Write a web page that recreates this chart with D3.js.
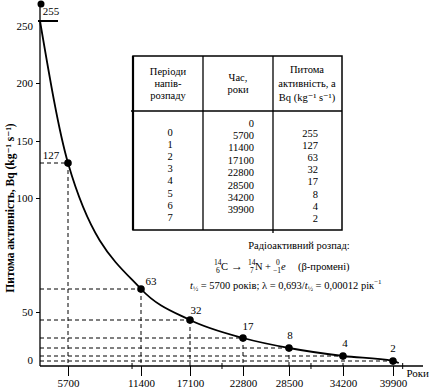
<!DOCTYPE html>
<html><head><meta charset="utf-8">
<script src="https://cdn.jsdelivr.net/npm/d3@7"></script>
<style>
html,body{margin:0;padding:0;background:#fff;}
svg, svg text{font-family:"Liberation Serif","DejaVu Serif","Times New Roman",serif !important;}
</style></head>
<body><svg id="c" width="431" height="391"></svg>
<script>
// ---- data ----
const periods = [0, 1, 2, 3, 4, 5, 6, 7];
const years = [0, 5700, 11400, 17100, 22800, 28500, 34200, 39900];
const activity = [255, 127, 63, 32, 17, 8, 4, 2];
const yTickValues = [0, 50, 100, 150, 200, 250];
const xTickValues = [5700, 11400, 17100, 22800, 28500, 34200, 39900];
const xMinorTicks = [10700, 20540, 30820, 40900];
const headerCol1 = ["Періоди", "напів-", "розпаду"];
const headerCol2 = ["Час,", "роки"];
const headerCol3 = ["Питома", "активність, a", "Bq (kg⁻¹ s⁻¹)"];
const yTitle = "Питома активність, Bq (kg⁻¹ s⁻¹)";
const xTitle = "Роки";

// ---- layout ----
const svg = d3.select("#c");
const x = d3.scaleLinear()
  .domain([0, 5700, 11400, 17100, 22800, 28500, 34200, 39900, 43000])
  .range([40, 68, 141, 190, 243, 289, 343, 393, 423]);
const y = d3.scaleLinear()
  .domain([0, 2, 4, 8, 17, 32, 50, 63, 100, 127, 150, 200, 250, 255, 272])
  .range([366, 361, 356, 348, 338, 320, 312, 289, 198, 163, 141, 83, 26, 21, 4]);

const g = svg.append("g");
const pts = years.map((t, i) => ({t, a: activity[i], i}));

// dashed guide lines
pts.slice(1).forEach(p => {
  g.append("line").attr("x1", x(0)).attr("x2", x(p.t)).attr("y1", y(p.a)).attr("y2", y(p.a))
    .attr("stroke", "#000").attr("stroke-width", 1).attr("stroke-dasharray", "4,3");
  g.append("line").attr("x1", x(p.t)).attr("x2", x(p.t)).attr("y1", y(p.a)).attr("y2", y(0))
    .attr("stroke", "#000").attr("stroke-width", 1).attr("stroke-dasharray", "4,3");
});
g.append("line").attr("x1", x(0) - 2).attr("x2", x(0) + 18).attr("y1", y(255)).attr("y2", y(255))
  .attr("stroke", "#000").attr("stroke-width", 2);

// y axis
const yAxis = d3.axisLeft(y).tickValues(yTickValues).tickSize(4).tickPadding(3)
  .tickFormat(d3.format("d"));
const ya = g.append("g").attr("transform", `translate(${x(0)},0)`).call(yAxis);
ya.select(".domain").remove();
ya.selectAll("text").attr("font-size", 11).attr("fill", "#000");
ya.selectAll(".tick").filter(d => d === 0).select("line").remove();
ya.selectAll(".tick").filter(d => d === 0).select("text").attr("dy", "-0.25em");
ya.selectAll(".tick").filter(d => d === 250).select("line").remove();
g.append("line").attr("x1", x(0)).attr("x2", x(0)).attr("y1", y(0)).attr("y2", y(272))
  .attr("stroke", "#000").attr("stroke-width", 1.3);
g.append("circle").attr("cx", x(0) + 1).attr("cy", y(272)).attr("r", 3.5).attr("fill", "#000");

// x axis
const xAxis = d3.axisBottom(x).tickValues(xTickValues).tickSize(10).tickPadding(3)
  .tickFormat(d3.format("d"));
const xa = g.append("g").attr("transform", `translate(0,${y(0)})`).call(xAxis);
xa.select(".domain").remove();
xa.selectAll("text").attr("font-size", 11).attr("fill", "#000");
g.append("line").attr("x1", x(0)).attr("x2", x(43000)).attr("y1", y(0)).attr("y2", y(0))
  .attr("stroke", "#000").attr("stroke-width", 1.3);
g.selectAll(".minor").data(xMinorTicks).join("line").attr("class", "minor")
  .attr("x1", d => x(d)).attr("x2", d => x(d)).attr("y1", y(0) - 3).attr("y2", y(0) + 3)
  .attr("stroke", "#000").attr("stroke-width", 1);
g.append("text").attr("x", x(43000) + 6).attr("y", y(0) + 11).attr("text-anchor", "end")
  .attr("font-size", 11).text(xTitle);

// y title
g.append("text").attr("transform", `translate(14,208) rotate(-90)`).attr("text-anchor", "middle")
  .attr("font-size", 11.5).attr("font-weight", "bold").text(yTitle);

// curve
const line = d3.line().x(d => x(d.t)).y(d => y(d.a)).curve(d3.curveMonotoneX);
g.append("path").datum(pts.concat([{t: 40500, a: 1.2}])).attr("d", line)
  .attr("fill", "none").attr("stroke", "#000").attr("stroke-width", 1.8);

// points
g.selectAll(".pt").data(pts.slice(1)).join("circle").attr("class", "pt")
  .attr("cx", d => x(d.t)).attr("cy", d => y(d.a)).attr("r", 3.8).attr("fill", "#000");

// point labels (offsets are layout only)
const labelOffsets = [[11, -6], [-17, -4], [10, -4], [6, -6], [5, -8], [1, -9], [2, -9], [0, -9]];
g.selectAll(".pl").data(pts).join("text").attr("class", "pl")
  .attr("x", d => x(d.t) + labelOffsets[d.i][0]).attr("y", d => y(d.a) + labelOffsets[d.i][1])
  .attr("text-anchor", "middle").attr("font-size", 11).text(d => d.a);

// table
const tb = svg.append("g");
const tL = 133, tR = 342, tT = 56, tH = 111, tB = 230, c1 = 203, c2 = 273;
tb.append("rect").attr("x", tL).attr("y", tT).attr("width", tR - tL).attr("height", tB - tT)
  .attr("fill", "#fff").attr("stroke", "#000").attr("stroke-width", 1.5);
tb.append("line").attr("x1", tL - 2).attr("x2", tR).attr("y1", tH).attr("y2", tH).attr("stroke", "#000").attr("stroke-width", 1.3);
[c1, c2].forEach(cx => tb.append("line").attr("x1", cx).attr("x2", cx).attr("y1", tT).attr("y2", tB + (cx === c2 ? 3 : 0))
  .attr("stroke", "#000").attr("stroke-width", 1.3));
tb.append("line").attr("x1", tL).attr("x2", tL).attr("y1", tT).attr("y2", tB).attr("stroke", "#000").attr("stroke-width", 2.2);

const hdr = (arr, cx, y0, dy) => arr.forEach((s, i) => tb.append("text").attr("x", cx).attr("y", y0 + i * dy)
  .attr("text-anchor", "middle").attr("dominant-baseline", "central").attr("font-size", 10.5).text(s));
hdr(headerCol1, 168, 71, 12);
hdr(headerCol2, 238, 77, 12);
hdr(headerCol3, 307, 69, 14);

tb.selectAll(".p1").data(periods).join("text").attr("x", 170).attr("y", (d, i) => 132 + i * 12.2)
  .attr("text-anchor", "middle").attr("dominant-baseline", "central").attr("font-size", 10.5).text(d => d);
tb.selectAll(".p2").data(years).join("text").attr("x", 254).attr("y", (d, i) => 123 + i * 12.4)
  .attr("text-anchor", "end").attr("dominant-baseline", "central").attr("font-size", 10.5).text(d => d);
tb.selectAll(".p3").data(activity).join("text").attr("x", 318).attr("y", (d, i) => 133 + i * 12.2)
  .attr("text-anchor", "end").attr("dominant-baseline", "central").attr("font-size", 10.5).text(d => d);

// annotation
const an = svg.append("g").attr("font-size", 10.5);
an.append("text").attr("x", 299).attr("y", 249).attr("text-anchor", "middle").text("Радіоактивний розпад:");
const eq = an.append("g");
const sm = 7.5;
eq.append("text").attr("x", 214).attr("y", 265).attr("font-size", sm).text("14");
eq.append("text").attr("x", 216).attr("y", 273).attr("font-size", sm).text("6");
eq.append("text").attr("x", 221).attr("y", 270).text("C");
eq.append("text").attr("x", 231).attr("y", 270).attr("font-size", 12).text("→");
eq.append("text").attr("x", 248).attr("y", 265).attr("font-size", sm).text("14");
eq.append("text").attr("x", 250).attr("y", 273).attr("font-size", sm).text("7");
eq.append("text").attr("x", 255).attr("y", 270).text("N");
eq.append("text").attr("x", 265).attr("y", 270).text("+");
eq.append("text").attr("x", 276).attr("y", 265).attr("font-size", sm).text("0");
eq.append("text").attr("x", 273).attr("y", 273).attr("font-size", sm).text("−1");
eq.append("text").attr("x", 281).attr("y", 270).attr("font-style", "italic").text("e");
eq.append("text").attr("x", 298).attr("y", 270).text("(β-промені)");
const l3 = an.append("text").attr("x", 190).attr("y", 289);
l3.append("tspan").attr("font-style", "italic").text("t");
l3.append("tspan").attr("font-size", 7).attr("dy", 2).text("½");
l3.append("tspan").attr("dy", -2).text(" = 5700 років; λ = 0,693/");
l3.append("tspan").attr("font-style", "italic").text("t");
l3.append("tspan").attr("font-size", 7).attr("dy", 2).text("½");
l3.append("tspan").attr("dy", -2).text(" = 0,00012 рік");
l3.append("tspan").attr("font-size", 7).attr("dy", -5).text("−1");
</script></body></html>
